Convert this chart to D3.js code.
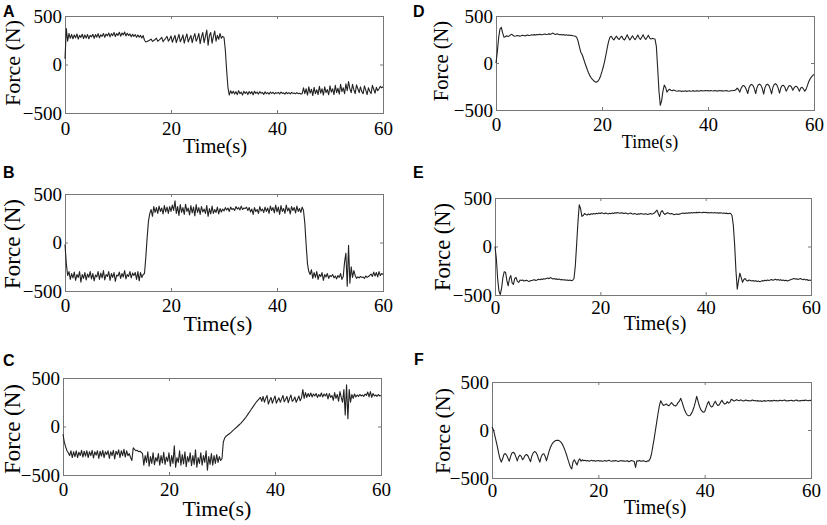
<!DOCTYPE html>
<html>
<head>
<meta charset="utf-8">
<script src="https://cdn.jsdelivr.net/npm/d3@7"></script>
<style>
    body { margin: 0; background: #fff; }
    svg text { font-family: "Liberation Serif", "Times New Roman", serif; fill: #000; }
    svg text.letter { font-family: "Liberation Sans", Arial, sans-serif; font-weight: bold; }
</style>
</head>
<body>
<div id="chart"></div>
<script>
// Six force recordings (A-F), one sample every 0.25 s from 0 to 60 s.
const sampleStep = 0.25;
const timeTicks = [0, 20, 40, 60];
const forceTicks = [-500, 0, 500];

const forceA = [
    60, 370, 240, 320, 270, 310, 265, 305, 275, 315, 262, 300, 280, 312, 268, 305, 272, 310, 265, 300,
    285, 312, 270, 308, 282, 318, 275, 306, 290, 320, 280, 315, 295, 325, 285, 318, 298, 330, 288, 320,
    300, 332, 292, 325, 305, 335, 295, 322, 298, 315, 285, 312, 290, 308, 280, 305, 282, 300, 272, 298,
    250, 232, 238, 245, 252, 262, 238, 248, 258, 272, 240, 252, 265, 280, 235, 255, 270, 290, 240, 262,
    295, 230, 265, 300, 225, 270, 310, 235, 262, 305, 220, 275, 315, 232, 268, 300, 225, 280, 318, 240,
    272, 320, 215, 285, 330, 225, 290, 355, 200, 300, 330, 220, 290, 345, 240, 300, 260, 320, 270, 290,
    280, 150, -60, -240, -315, -270, -300, -275, -305, -280, -310, -270, -300, -285, -315, -275, -298, -282, -310, -278,
    -300, -280, -312, -276, -298, -285, -305, -280, -296, -288, -308, -282, -300, -290, -306, -284, -298, -286, -304, -290,
    -296, -288, -302, -284, -298, -292, -306, -286, -300, -290, -304, -288, -298, -294, -302, -290, -300, -296, -304, -300,
    -240, -300, -250, -315, -230, -295, -255, -320, -235, -300, -260, -310, -225, -295, -250, -315, -230, -290, -258, -312,
    -220, -285, -250, -310, -215, -290, -245, -305, -205, -280, -240, -300, -200, -270, -175, -250, -290, -205, -260, -300,
    -210, -250, -290, -230, -280, -300, -220, -265, -310, -240, -275, -300, -215, -255, -295, -235, -270, -250, -225, -240,
    -230
];

const forceB = [
    -20, -220, -340, -300, -380, -320, -365, -305, -390, -330, -360, -300, -410, -330, -370, -310, -385, -325, -360, -300,
    -375, -320, -395, -335, -355, -300, -380, -315, -365, -290, -385, -330, -350, -300, -390, -320, -360, -310, -400, -335,
    -345, -305, -370, -320, -355, -290, -375, -330, -350, -300, -365, -315, -340, -310, -380, -300, -395, -310, -360, -330,
    -320, -150, 50, 220, 300, 340, 270, 370, 310, 360, 300, 375, 320, 355, 295, 380, 315, 365, 300, 370,
    320, 385, 330, 430, 300, 370, 280, 390, 310, 360, 290, 395, 320, 355, 285, 380, 305, 365, 275, 390,
    310, 360, 290, 370, 315, 345, 300, 380, 270, 350, 295, 375, 300, 340, 310, 365, 295, 350, 315, 345,
    325, 360, 335, 355, 320, 365, 340, 350, 330, 370, 345, 360, 335, 375, 340, 355, 350, 365, 330, 360,
    315, 345, 290, 360, 320, 340, 300, 370, 325, 345, 310, 365, 320, 355, 300, 375, 330, 360, 305, 385,
    315, 365, 290, 380, 320, 350, 300, 385, 325, 355, 295, 370, 330, 360, 305, 375, 320, 350, 310, 365,
    330, 200, -20, -220, -300, -330, -280, -370, -310, -360, -300, -380, -330, -350, -310, -390, -330, -355, -320, -370,
    -340, -350, -330, -365, -345, -375, -340, -360, -320, -380, -350, -200, -110, -450, -30, -420, -250, -360, -290, -340,
    -370, -355, -365, -350, -360, -355, -370, -345, -360, -350, -340, -325, -350, -305, -345, -310, -355, -300, -340, -320,
    -330
];

const forceC = [
    -80, -160, -210, -250, -270, -300, -250, -320, -260, -310, -250, -320, -265, -300, -245, -315, -255, -305, -250, -320,
    -260, -300, -245, -325, -260, -295, -250, -330, -255, -305, -245, -320, -260, -290, -250, -330, -260, -300, -245, -335,
    -255, -290, -240, -320, -250, -300, -235, -315, -250, -300, -280, -320, -350, -220, -235, -250, -245, -260, -255, -265,
    -280, -400, -300, -370, -260, -410, -310, -380, -270, -395, -320, -360, -280, -400, -300, -375, -265, -390, -315, -360,
    -270, -410, -300, -380, -200, -420, -320, -370, -250, -400, -290, -385, -260, -415, -310, -365, -270, -405, -300, -390,
    -240, -420, -320, -380, -270, -400, -300, -370, -250, -450, -310, -390, -280, -400, -300, -380, -290, -370, -310, -350,
    -330, -160, -120, -100, -90, -80, -70, -58, -45, -32, -20, -8, 5, 18, 30, 45, 60, 78, 95, 115,
    135, 155, 175, 195, 215, 235, 255, 270, 285, 300, 260, 310, 250, 290, 320, 230, 270, 300, 240, 280,
    315, 240, 270, 295, 250, 285, 320, 255, 280, 310, 245, 290, 325, 260, 275, 305, 250, 280, 315, 265,
    295, 380, 290, 350, 300, 340, 310, 345, 305, 335, 315, 340, 300, 330, 310, 345, 305, 335, 315, 340,
    285, 340, 300, 320, 270, 350, 290, 330, 260, 360, 300, 250, 380, 120, 430, 80, 380, 250, 330, 290,
    335, 305, 325, 310, 330, 315, 325, 310, 335, 320, 355, 305, 360, 300, 340, 315, 325, 310, 330, 315,
    320
];

const forceD = [
    0, 120, 270, 360, 380, 320, 275, 280, 290, 282, 288, 300, 305, 292, 285, 288, 292, 290, 286, 290,
    295, 292, 288, 294, 298, 293, 296, 300, 297, 302, 298, 304, 300, 306, 302, 300, 305, 308, 303, 306,
    310, 305, 312, 318, 308, 304, 310, 306, 300, 304, 298, 302, 296, 300, 295, 298, 292, 295, 290, 288,
    285, 270, 230, 170, 115, 90, 50, 5, -35, -75, -110, -140, -160, -178, -192, -202, -203, -192, -170, -135,
    -90, -40, 20, 90, 165, 230, 275, 285, 260, 245, 270, 285, 260, 250, 275, 285, 255, 245, 270, 300,
    270, 245, 265, 290, 265, 248, 272, 298, 268, 250, 275, 300, 270, 250, 272, 295, 265, 255, 262, 258,
    255, 180, -50, -300, -450, -400, -300, -235, -260, -310, -290, -280, -290, -295, -288, -292, -298, -300, -295, -298,
    -302, -298, -300, -296, -302, -298, -295, -300, -298, -294, -300, -297, -295, -300, -296, -292, -298, -295, -292, -296,
    -294, -297, -293, -296, -298, -294, -296, -299, -295, -293, -297, -295, -298, -296, -294, -298, -300, -296, -295, -292,
    -292, -285, -268, -282, -310, -270, -245, -240, -255, -285, -325, -262, -235, -228, -240, -275, -325, -260, -232, -225,
    -238, -272, -330, -262, -232, -226, -240, -278, -328, -258, -228, -220, -235, -270, -320, -262, -240, -238, -258, -300,
    -275, -245, -240, -255, -290, -262, -248, -250, -270, -300, -265, -258, -275, -300, -280, -240, -200, -170, -150, -135,
    -120
];

const forceE = [
    0, -120, -330, -460, -495, -430, -320, -260, -265, -350, -405, -330, -300, -375, -390, -330, -320, -360, -370, -345,
    -350, -345, -355, -352, -348, -355, -360, -352, -350, -346, -342, -350, -345, -338, -342, -335, -340, -332, -336, -330,
    -325, -332, -320, -328, -335, -330, -338, -334, -340, -336, -344, -340, -345, -342, -348, -345, -350, -346, -352, -348,
    -330, -200, 20, 250, 430, 390, 310, 320, 340, 330, 325, 335, 328, 338, 332, 340, 335, 342, 338, 345,
    340, 348, 342, 338, 345, 340, 336, 342, 338, 345, 340, 348, 344, 350, 346, 342, 348, 344, 340, 346,
    342, 336, 340, 345, 338, 334, 340, 336, 330, 338, 334, 340, 336, 332, 338, 335, 330, 336, 340, 334,
    338, 345, 360, 375, 340, 310, 355, 370, 345, 330, 340, 348, 342, 336, 340, 334, 328, 332, 336, 330,
    334, 338, 342, 345, 340, 346, 342, 348, 344, 350, 346, 350, 348, 352, 348, 354, 350, 348, 352, 350,
    352, 348, 350, 346, 350, 348, 345, 350, 346, 348, 344, 348, 345, 342, 346, 340, 344, 338, 342, 340,
    320, 220, 20, -250, -440, -350, -275, -320, -370, -340, -330, -350, -355, -345, -350, -355, -350, -358, -352, -360,
    -355, -362, -358, -352, -356, -348, -352, -345, -350, -346, -340, -348, -344, -338, -345, -340, -348, -342, -350, -346,
    -352, -348, -355, -350, -345, -340, -335, -330, -336, -332, -340, -335, -330, -338, -342, -336, -345, -340, -350, -346,
    -350
];

const forceF = [
    30, 5, -50, -110, -170, -240, -300, -335, -300, -255, -245, -262, -295, -325, -275, -240, -232, -245, -280, -322,
    -280, -262, -275, -310, -290, -262, -255, -268, -300, -330, -270, -238, -225, -232, -258, -300, -335, -280, -252, -248,
    -275, -320, -270, -220, -180, -150, -130, -118, -110, -106, -108, -115, -128, -150, -180, -215, -255, -300, -345, -385,
    -405, -330, -310, -340, -365, -320, -300, -325, -310, -320, -315, -322, -318, -325, -320, -316, -322, -318, -325, -320,
    -318, -324, -320, -326, -322, -318, -325, -320, -316, -322, -326, -320, -324, -318, -322, -328, -322, -318, -324, -320,
    -326, -322, -320, -330, -324, -318, -322, -328, -390, -320, -324, -318, -326, -322, -320, -325, -330, -322, -322, -300,
    -250, -170, -90, 0, 90, 180, 260, 305, 275, 255, 262, 272, 260, 252, 268, 285, 270, 255, 250, 262,
    285, 300, 330, 290, 245, 205, 175, 155, 148, 152, 170, 200, 240, 290, 350, 300, 250, 215, 195, 185,
    190, 230, 270, 298, 260, 240, 245, 275, 300, 270, 255, 262, 290, 310, 285, 270, 275, 295, 280, 290,
    320, 312, 302, 308, 316, 310, 305, 314, 308, 302, 306, 312, 304, 308, 302, 306, 312, 304, 308, 302,
    306, 300, 304, 298, 302, 306, 300, 304, 308, 302, 306, 302, 310, 304, 308, 302, 306, 310, 304, 308,
    312, 306, 302, 308, 304, 310, 306, 302, 308, 312, 306, 302, 308, 304, 310, 306, 312, 308, 304, 310,
    306
];

// Where each panel sits on the page
const panels = [
    { letter: "A", data: forceA, left: 65, right: 383, top: 16, bottom: 113, letterX: 3, letterY: 17, yLabelX: 12, yLabelY: 63, xLabelX: 215, tickGap: 22, xLabelGap: 40, xLabelSize: 20.5, yLabelSize: 22 },
    { letter: "B", data: forceB, left: 65, right: 383, top: 194, bottom: 291, letterX: 3, letterY: 178, yLabelX: 12, yLabelY: 244, xLabelX: 218, tickGap: 21, xLabelGap: 40, xLabelSize: 22, yLabelSize: 23 },
    { letter: "C", data: forceC, left: 63, right: 381, top: 378, bottom: 475, letterX: 3, letterY: 366, yLabelX: 12, yLabelY: 429, xLabelX: 217, tickGap: 21, xLabelGap: 41, xLabelSize: 22, yLabelSize: 23 },
    { letter: "D", data: forceD, left: 496, right: 814, top: 16, bottom: 110, letterX: 413, letterY: 17, yLabelX: 441, yLabelY: 61, xLabelX: 650, tickGap: 21, xLabelGap: 38, xLabelSize: 18, yLabelSize: 20.5 },
    { letter: "E", data: forceE, left: 495, right: 811, top: 198, bottom: 295, letterX: 413, letterY: 178, yLabelX: 442, yLabelY: 247, xLabelX: 655, tickGap: 19, xLabelGap: 35, xLabelSize: 20, yLabelSize: 22.5 },
    { letter: "F", data: forceF, left: 492, right: 811, top: 382, bottom: 478, letterX: 414, letterY: 365, yLabelX: 442, yLabelY: 431, xLabelX: 655, tickGap: 19, xLabelGap: 36, xLabelSize: 20, yLabelSize: 22 }
];

const width = 827;
const height = 525;
const serif = "Liberation Serif, Times New Roman, serif";

const svg = d3.select("#chart")
    .append("svg")
    .attr("width", width)
    .attr("height", height);

panels.forEach(p => {
    const x = d3.scaleLinear().domain([0, 60]).range([p.left, p.right]);
    const y = d3.scaleLinear().domain([-500, 500]).range([p.bottom, p.top]);
    const g = svg.append("g");

    // inward ticks on all four sides, labels only bottom and left
    g.append("g")
        .attr("transform", `translate(0,${p.bottom})`)
        .call(d3.axisBottom(x).tickValues(timeTicks).tickSize(-3).tickPadding(p.tickGap - 13))
        .call(a => a.select(".domain").remove());
    g.append("g")
        .attr("transform", `translate(0,${p.top})`)
        .call(d3.axisTop(x).tickValues(timeTicks).tickSize(-3).tickFormat(""))
        .call(a => a.select(".domain").remove());
    g.append("g")
        .attr("transform", `translate(${p.left},0)`)
        .call(d3.axisLeft(y).tickValues(forceTicks).tickSize(-3).tickPadding(3))
        .call(a => a.select(".domain").remove());
    g.append("g")
        .attr("transform", `translate(${p.right},0)`)
        .call(d3.axisRight(y).tickValues(forceTicks).tickSize(-3).tickFormat(""))
        .call(a => a.select(".domain").remove());

    // d3 puts sans-serif on the axis groups; switch them back to the Times look
    g.selectAll("g").attr("font-family", serif).attr("font-size", 19);
    g.selectAll(".tick line").attr("stroke", "#777");
    g.selectAll(".tick text").attr("fill", "#000");

    g.append("rect")
        .attr("x", p.left + 0.5)
        .attr("y", p.top + 0.5)
        .attr("width", p.right - p.left)
        .attr("height", p.bottom - p.top)
        .attr("fill", "none")
        .attr("stroke", "#777")
        .attr("stroke-width", 1);

    const line = d3.line()
        .x((d, i) => x(i * sampleStep))
        .y(d => y(d));

    g.append("path")
        .datum(p.data)
        .attr("d", line)
        .attr("fill", "none")
        .attr("stroke", "#222")
        .attr("stroke-width", 1.1)
        .attr("stroke-linejoin", "round");

    g.append("text")
        .attr("x", p.xLabelX)
        .attr("y", p.bottom + p.xLabelGap)
        .attr("text-anchor", "middle")
        .attr("font-family", serif)
        .attr("font-size", p.xLabelSize)
        .text("Time(s)");

    g.append("text")
        .attr("transform", `translate(${p.yLabelX},${p.yLabelY}) rotate(-90)`)
        .attr("text-anchor", "middle")
        .attr("dy", "0.35em")
        .attr("font-family", serif)
        .attr("font-size", p.yLabelSize)
        .text("Force (N)");

    g.append("text")
        .attr("class", "letter")
        .attr("x", p.letterX)
        .attr("y", p.letterY)
        .attr("font-size", 16)
        .text(p.letter);
});
</script>
</body>
</html>
